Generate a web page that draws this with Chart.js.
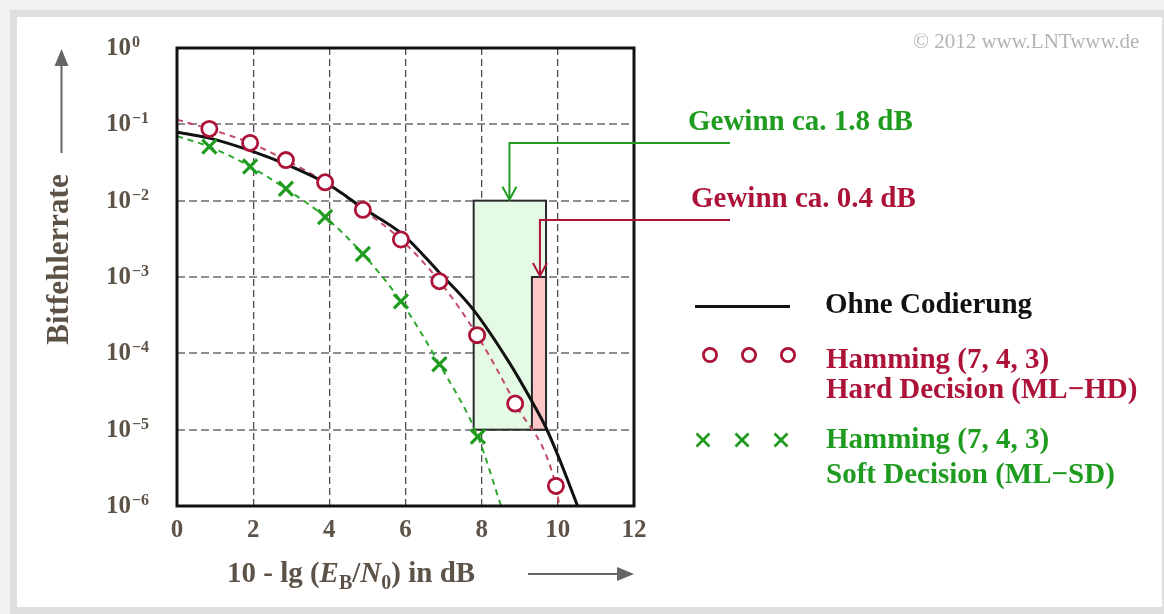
<!DOCTYPE html>
<html><head><meta charset="utf-8">
<script src="https://cdn.jsdelivr.net/npm/chart.js@4"></script>
<style>
html,body{margin:0;padding:0;background:#f1f1f1;width:1164px;height:614px;overflow:hidden}
#panel{position:absolute;left:10px;top:10px;width:1145px;height:590px;border:7px solid #dfdfdf;background:#fff}
#wrap{position:absolute;left:0;top:0;width:1164px;height:614px}
</style></head><body>
<div id="panel"></div>
<div id="wrap"><canvas id="c" width="1164" height="614"></canvas></div>
<script>
// ---- data ----
const uncodedX   = [0, 0.85, 2.0, 2.86, 4.02, 4.88, 5.93, 6.89, 7.77, 8.73, 9.34, 9.69, 10.01, 10.52];
const uncodedBER = [7.9e-2, 6.6e-2, 4.4e-2, 3.0e-2, 1.58e-2, 8.0e-3, 3.6e-3, 1.14e-3, 3.8e-4, 7.5e-5, 2.25e-5, 1.06e-5, 4.5e-6, 1.0e-6];

const hdX   = [0.85, 1.92, 2.86, 3.89, 4.88, 5.88, 6.89, 7.88, 8.88, 9.95];
const hdBER = [8.7e-2, 5.7e-2, 3.4e-2, 1.74e-2, 7.6e-3, 3.1e-3, 8.8e-4, 1.73e-4, 2.2e-5, 1.83e-6];
const hdCurveX   = [0, 0.85, 1.92, 2.86, 3.89, 4.88, 5.88, 6.89, 7.88, 8.88, 9.95, 10.04];
const hdCurveBER = [0.115, 8.7e-2, 5.7e-2, 3.4e-2, 1.74e-2, 7.6e-3, 3.1e-3, 8.8e-4, 1.73e-4, 2.2e-5, 1.83e-6, 1.0e-6];

const sdX   = [0.85, 1.92, 2.86, 3.89, 4.88, 5.88, 6.89, 7.9];
const sdBER = [5.1e-2, 2.8e-2, 1.43e-2, 6.1e-3, 2.0e-3, 4.8e-4, 7.2e-5, 8.1e-6];
const sdCurveX   = [0, 0.85, 1.92, 2.86, 3.89, 4.88, 5.88, 6.89, 7.9, 8.51];
const sdCurveBER = [6.97e-2, 5.1e-2, 2.8e-2, 1.43e-2, 6.1e-3, 2.0e-3, 4.8e-4, 7.2e-5, 8.1e-6, 1.0e-6];

const xTickValues = [0, 2, 4, 6, 8, 10, 12];
const yTickValues = [1, 1e-1, 1e-2, 1e-3, 1e-4, 1e-5, 1e-6];

const legendLabels = ['Ohne Codierung', 'Hamming (7, 4, 3)', 'Hard Decision (ML\u2212HD)', 'Hamming (7, 4, 3)', 'Soft Decision (ML\u2212SD)'];
const gainLabels = ['Gewinn ca. 1.8 dB', 'Gewinn ca. 0.4 dB'];
const yTitle = 'Bitfehlerrate';
const copyright = '\u00A9 2012 www.LNTwww.de';

// gain boxes in data coordinates
const gainBoxX0 = [7.79, 9.32];
const gainBoxX1 = [9.69, 9.69];
const gainBoxTop = [1e-2, 1e-3];
const gainBoxBottom = [1e-5, 1e-5];
const gainArrowX = [8.73, 9.53];
const gainArrowY = [0.057, 5.6e-3];

// ---- styles ----
const SERIF = '"Liberation Serif", "Times New Roman", serif';
const AXIS_COLOR = '#5d5247';
const RED = '#ad1238';
const RED_DASH = '#c44a66';
const GREEN = '#1f9c1f';
const GREEN_DASH = '#2ea82e';

const pts = (xs, ys) => xs.map((v, i) => ({x: v, y: ys[i]}));

function supText(v) {
  const e = Math.round(Math.log10(v));
  return e < 0 ? '\u2212' + (-e) : String(e);
}

function drawRuns(ctx, runs, x, base) {
  for (const r of runs) {
    ctx.font = r.font;
    ctx.fillText(r.t, x, base + (r.dy || 0));
    x += ctx.measureText(r.t).width;
  }
}

const overlay = {
  id: 'overlay',
  beforeDatasetsDraw(chart) {
    const {ctx, scales: {x, y}} = chart;
    ctx.save();
    const fills = ['#e4fae4', '#ffc8c8'];
    for (let i = 0; i < gainBoxX0.length; i++) {
      const l = x.getPixelForValue(gainBoxX0[i]), r = x.getPixelForValue(gainBoxX1[i]);
      const t = y.getPixelForValue(gainBoxTop[i]), b = y.getPixelForValue(gainBoxBottom[i]);
      ctx.fillStyle = fills[i];
      ctx.fillRect(l, t, r - l, b - t);
      ctx.strokeStyle = '#2a2a2a';
      ctx.lineWidth = 2;
      ctx.strokeRect(l, t, r - l, b - t);
    }
    ctx.restore();
  },
  afterDatasetsDraw(chart) {
    const {ctx, chartArea: a, scales: {x, y}} = chart;
    ctx.save();
    // plot frame
    ctx.strokeStyle = '#111';
    ctx.lineWidth = 3;
    ctx.strokeRect(a.left, a.top, a.right - a.left, a.bottom - a.top);

    // gain arrows
    const arrowCols = [GREEN, RED];
    const tips = [gainBoxTop[0], gainBoxTop[1]];
    for (let i = 0; i < 2; i++) {
      const ax = x.getPixelForValue(gainArrowX[i]);
      const ay = y.getPixelForValue(gainArrowY[i]);
      const ty = y.getPixelForValue(tips[i]);
      ctx.strokeStyle = arrowCols[i];
      ctx.lineWidth = 2;
      ctx.beginPath();
      ctx.moveTo(730, ay);
      ctx.lineTo(ax, ay);
      ctx.lineTo(ax, ty - 1);
      ctx.stroke();
      ctx.beginPath();
      ctx.moveTo(ax - 7, ty - 14);
      ctx.lineTo(ax, ty - 1);
      ctx.lineTo(ax + 7, ty - 14);
      ctx.stroke();
    }

    // gain labels
    ctx.textAlign = 'left';
    ctx.textBaseline = 'alphabetic';
    ctx.font = 'bold 29px ' + SERIF;
    ctx.fillStyle = GREEN;
    ctx.fillText(gainLabels[0], 688, 130);
    ctx.fillStyle = RED;
    ctx.fillText(gainLabels[1], 691, 207);

    // copyright
    ctx.font = '21px ' + SERIF;
    ctx.fillStyle = '#b3b3b3';
    ctx.fillText(copyright, 913, 48);

    // y tick labels
    ctx.fillStyle = AXIS_COLOR;
    for (const v of yTickValues) {
      const py = y.getPixelForValue(v);
      ctx.font = 'bold 25px ' + SERIF;
      ctx.fillText('10', 106, py + 7);
      const w = ctx.measureText('10').width;
      ctx.font = 'bold 16px ' + SERIF;
      ctx.fillText(supText(v), 106 + w + 1, py - 1);
    }
    // x tick labels
    ctx.textAlign = 'center';
    ctx.font = 'bold 25px ' + SERIF;
    for (const v of xTickValues) {
      ctx.fillText(String(v), x.getPixelForValue(v), 537);
    }
    // x title
    ctx.textAlign = 'left';
    const f = 'bold 29px ' + SERIF, fi = 'italic bold 29px ' + SERIF, fs = 'bold 20px ' + SERIF;
    drawRuns(ctx, [
      {t: '10 - lg (', font: f},
      {t: 'E', font: fi},
      {t: 'B', font: fs, dy: 7},
      {t: '/', font: f},
      {t: 'N', font: fi},
      {t: '0', font: fs, dy: 7},
      {t: ') in dB', font: f}
    ], 227, 582);
    // x arrow
    ctx.strokeStyle = '#666';
    ctx.fillStyle = '#666';
    ctx.lineWidth = 2;
    ctx.beginPath(); ctx.moveTo(528, 574); ctx.lineTo(620, 574); ctx.stroke();
    ctx.beginPath(); ctx.moveTo(634, 574); ctx.lineTo(617, 567); ctx.lineTo(617, 581); ctx.closePath(); ctx.fill();
    // y arrow
    ctx.beginPath(); ctx.moveTo(61.5, 153); ctx.lineTo(61.5, 62); ctx.stroke();
    ctx.beginPath(); ctx.moveTo(61.5, 49); ctx.lineTo(54.5, 66); ctx.lineTo(68.5, 66); ctx.closePath(); ctx.fill();
    // y title
    ctx.save();
    ctx.translate(68, 259.5);
    ctx.rotate(-Math.PI / 2);
    ctx.textAlign = 'center';
    ctx.fillStyle = AXIS_COLOR;
    ctx.font = 'bold 31px ' + SERIF;
    ctx.fillText(yTitle, 0, 0);
    ctx.restore();

    // legend
    ctx.strokeStyle = '#111';
    ctx.lineWidth = 3;
    ctx.beginPath(); ctx.moveTo(695, 306.5); ctx.lineTo(790, 306.5); ctx.stroke();
    ctx.strokeStyle = RED;
    ctx.lineWidth = 2.8;
    for (const cx of [710, 749, 788]) {
      ctx.beginPath(); ctx.arc(cx, 355, 6.6, 0, Math.PI * 2); ctx.stroke();
    }
    ctx.strokeStyle = GREEN;
    ctx.lineWidth = 2.8;
    for (const cx of [703, 742, 781]) {
      ctx.beginPath();
      ctx.moveTo(cx - 6.5, 433.5); ctx.lineTo(cx + 6.5, 446.5);
      ctx.moveTo(cx + 6.5, 433.5); ctx.lineTo(cx - 6.5, 446.5);
      ctx.stroke();
    }
    ctx.font = 'bold 29px ' + SERIF;
    ctx.textAlign = 'left';
    ctx.fillStyle = '#111';
    ctx.fillText(legendLabels[0], 825, 313);
    ctx.fillStyle = RED;
    ctx.fillText(legendLabels[1], 826, 368);
    ctx.fillText(legendLabels[2], 826, 398);
    ctx.fillStyle = GREEN;
    ctx.fillText(legendLabels[3], 826, 448);
    ctx.fillText(legendLabels[4], 826, 483);
    ctx.restore();
  }
};

new Chart(document.getElementById('c'), {
  type: 'scatter',
  data: {
    datasets: [
      {label: 'Ohne Codierung', data: pts(uncodedX, uncodedBER), showLine: true, borderColor: '#111', borderWidth: 3,
       pointRadius: 0, cubicInterpolationMode: 'monotone', order: 3},
      {label: 'HD curve', data: pts(hdCurveX, hdCurveBER), showLine: true, borderColor: RED_DASH, borderWidth: 2,
       borderDash: [6, 5], pointRadius: 0, cubicInterpolationMode: 'monotone', order: 4},
      {label: 'SD curve', data: pts(sdCurveX, sdCurveBER), showLine: true, borderColor: GREEN_DASH, borderWidth: 2,
       borderDash: [6, 5], pointRadius: 0, cubicInterpolationMode: 'monotone', order: 5},
      {label: 'Hamming (7,4,3) HD', data: pts(hdX, hdBER), showLine: false, pointStyle: 'circle', pointRadius: 7.6,
       pointBorderWidth: 2.8, pointBorderColor: RED, pointBackgroundColor: '#fff', order: 1},
      {label: 'Hamming (7,4,3) SD', data: pts(sdX, sdBER), showLine: false, pointStyle: 'crossRot', pointRadius: 10,
       pointBorderWidth: 3.2, pointBorderColor: GREEN, order: 2}
    ]
  },
  options: {
    responsive: false,
    animation: false,
    layout: {padding: {left: 0, top: 48, right: 530, bottom: 0}},
    plugins: {legend: {display: false}, tooltip: {enabled: false}},
    scales: {
      x: {
        type: 'linear', min: 0, max: 12,
        afterBuildTicks: s => { s.ticks = xTickValues.map(v => ({value: v})); },
        afterFit: s => { s.height = 108; },
        ticks: {display: false},
        grid: {color: '#4d4d4d', lineWidth: 1.3, drawTicks: false},
        border: {display: false, dash: [7, 4]}
      },
      y: {
        type: 'logarithmic', min: 1e-6, max: 1,
        afterBuildTicks: s => { s.ticks = yTickValues.map(v => ({value: v})); },
        afterFit: s => { s.width = 177; },
        ticks: {display: false},
        grid: {color: '#8f8f8f', lineWidth: 2, drawTicks: false},
        border: {display: false, dash: [8, 4]}
      }
    }
  },
  plugins: [overlay]
});
</script>
</body></html>
